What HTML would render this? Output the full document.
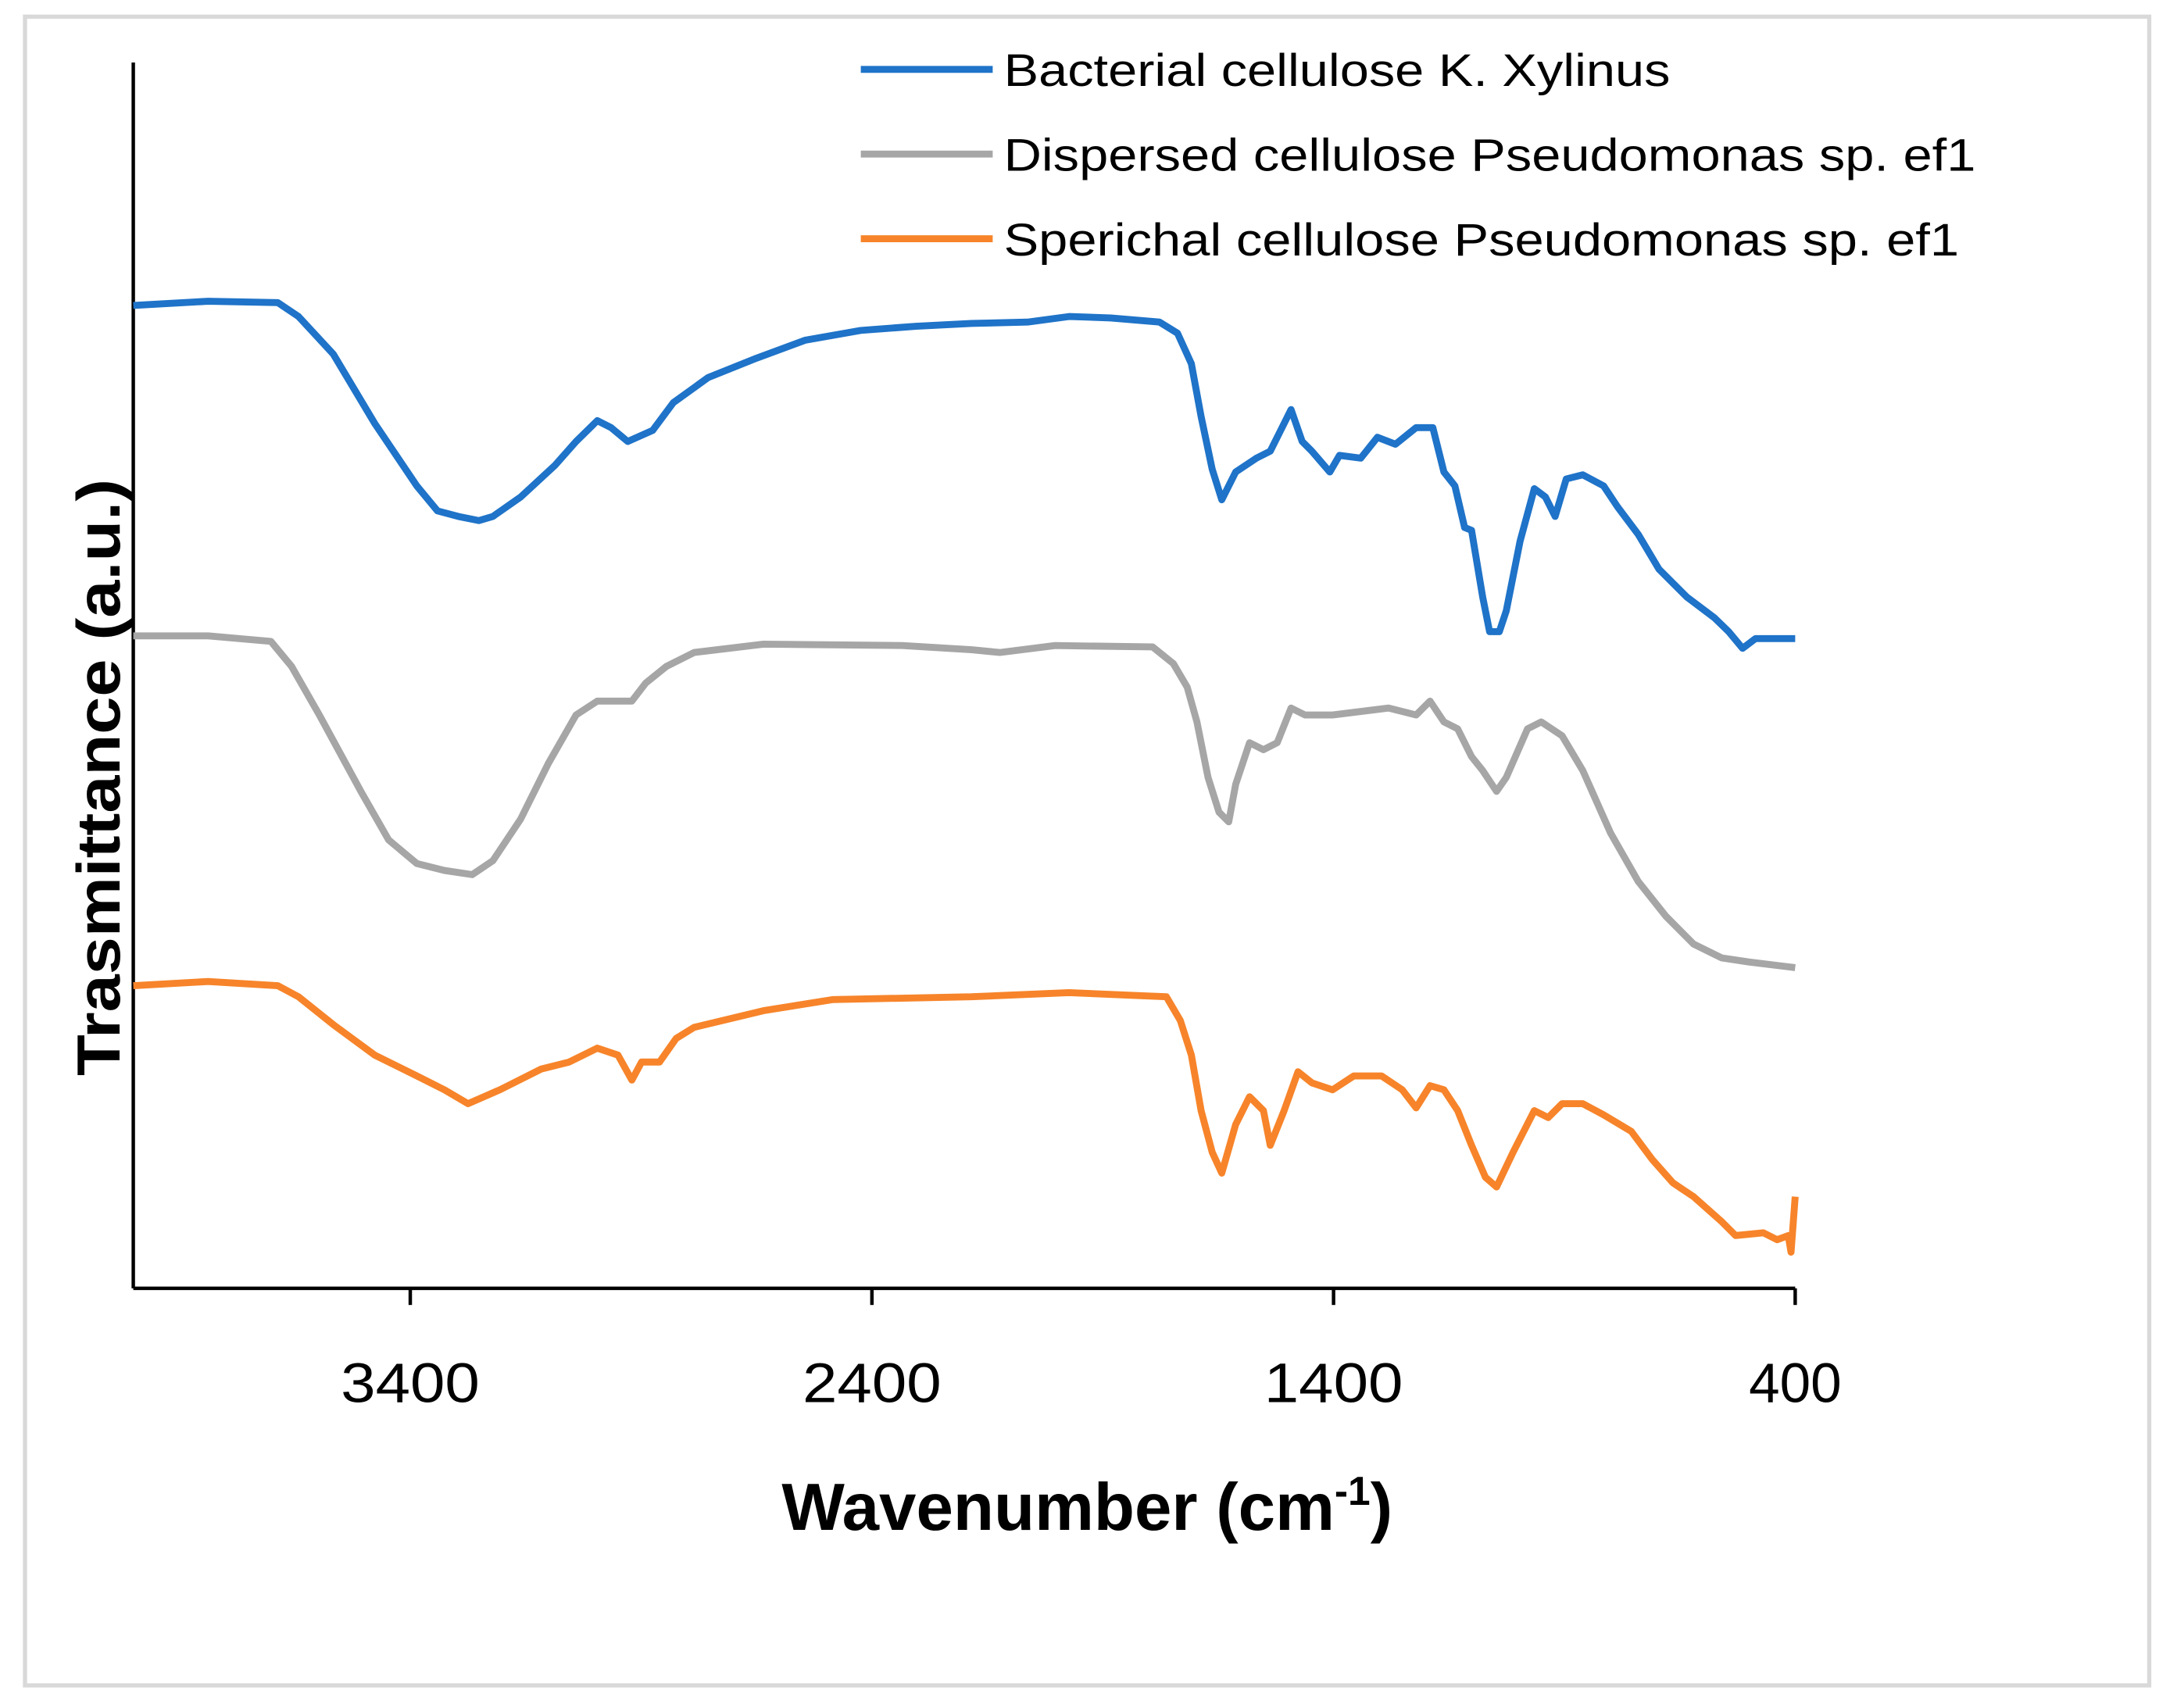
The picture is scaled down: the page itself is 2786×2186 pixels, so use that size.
<!DOCTYPE html>
<html><head><meta charset="utf-8"><style>
html,body{margin:0;padding:0;background:#fff;}
svg{display:block;}
text{font-family:"Liberation Sans",sans-serif;}
</style></head><body>
<svg id="chart" width="2786" height="2186" viewBox="0 0 1568 1230.3" preserveAspectRatio="none" xmlns="http://www.w3.org/2000/svg">
<rect x="18" y="12" width="1530" height="1202" fill="#fff" stroke="#d9d9d9" stroke-width="3"/>
<g id="axes"></g>
<g id="series"></g>
<g id="legend"></g>
<text transform="translate(86,560) rotate(-90)" text-anchor="middle" font-size="44" font-weight="bold" fill="#000" textLength="430" lengthAdjust="spacingAndGlyphs">Trasmittance (a.u.)</text>
<text x="563" y="1102" font-size="48" font-weight="bold" fill="#000">Wavenumber (cm<tspan dy="-18" font-size="29">-1</tspan><tspan dy="18">)</tspan></text>
</svg>
<script>
const xTicks=[3400,2400,1400,400];
const seriesNames=["Bacterial cellulose K. Xylinus","Dispersed cellulose Pseudomonas sp. ef1","Sperichal cellulose Pseudomonas sp. ef1"];
const seriesColors=["#1f73c8","#a6a6a6","#f7842a"];
const blueWn=[4000,3838,3687,3642,3567,3477,3386,3341,3296,3251,3221,3161,3086,3041,2995,2965,2929,2875,2830,2755,2650,2544,2424,2304,2184,2063,1973,1883,1777,1738,1708,1687,1663,1642,1612,1567,1537,1507,1492,1468,1447,1408,1387,1341,1305,1266,1221,1185,1161,1137,1116,1101,1077,1062,1041,1026,996,965,941,920,896,860,815,785,740,695,635,575,544,514,486,439,400];
const blueY=[220,217,218,228,255,305,350,368,372,375,372,358,335,318,303,308,318,310,290,272,258,245,238,235,233,232,228,229,232,240,262,300,338,360,340,330,325,305,295,318,325,340,328,330,315,320,308,308,340,350,380,382,430,455,455,440,390,352,358,372,345,342,350,365,385,410,430,445,455,467,460,460,460];
const grayWn=[4000,3838,3702,3657,3597,3507,3447,3386,3326,3266,3221,3161,3101,3041,2995,2950,2920,2890,2845,2785,2635,2334,2184,2123,2003,1792,1747,1717,1696,1672,1648,1627,1612,1582,1552,1522,1492,1462,1402,1281,1221,1191,1161,1131,1101,1077,1047,1026,980,950,905,860,800,740,680,620,559,499,400];
const grayY=[458,458,462,480,515,570,605,622,627,630,620,590,550,515,505,505,505,492,480,470,464,465,468,470,465,466,478,495,520,560,585,592,565,535,540,535,510,515,515,510,515,505,520,525,545,555,570,560,525,520,530,555,600,635,660,680,690,693,697];
const orangeWn=[4000,3838,3687,3642,3567,3477,3386,3326,3275,3206,3116,3056,2995,2950,2920,2899,2860,2824,2785,2635,2484,2184,1973,1762,1732,1708,1687,1663,1642,1612,1582,1552,1537,1507,1477,1447,1402,1356,1296,1251,1221,1191,1161,1131,1101,1071,1047,1011,965,935,905,860,815,755,710,665,620,559,529,469,439,415,409,400];
const orangeY=[710,707,710,718,738,760,775,785,795,785,770,765,755,760,778,765,765,748,740,728,720,718,715,718,735,760,800,830,845,810,790,800,825,800,772,780,785,775,775,785,798,782,785,800,825,848,855,830,800,805,795,795,803,815,835,852,862,880,890,888,893,890,902,862];
const toAU=a=>a.map(v=>(928-v)/8.83);
const seriesWn=[blueWn,grayWn,orangeWn];
const seriesVals=[toAU(blueY),toAU(grayY),toAU(orangeY)];

const NS="http://www.w3.org/2000/svg";
const X0=96,X1=1293,Y0=928,Y1=45;
const xScale=w=>X0+(4000-w)/(4000-400)*(X1-X0);
const yScale=v=>Y0-v*8.83;
const axes=document.getElementById('axes');
function mk(tag,attrs,parent){const e=document.createElementNS(NS,tag);for(const k in attrs)e.setAttribute(k,attrs[k]);parent.appendChild(e);return e;}
const yl=mk('line',{x1:X0,y1:Y1,x2:X0,y2:Y0,stroke:'#000','stroke-width':2.5},axes);


const xl=mk('line',{x1:X0,y1:Y0,x2:X1,y2:Y0,stroke:'#000','stroke-width':2.5},axes);


xTicks.forEach(t=>{
  const tk=mk('line',{x1:xScale(t),y1:Y0,x2:xScale(t),y2:Y0+12,stroke:'#000','stroke-width':2.5},axes);
  
  
  const tl=mk('text',{x:xScale(t),y:1010,'text-anchor':'middle','font-size':40,fill:'#000'},axes);
  tl.textContent=t;
  if(String(t).length===4){tl.setAttribute('textLength',100);tl.setAttribute('lengthAdjust','spacingAndGlyphs');}
  
  
});
const sg=document.getElementById('series');
seriesWn.forEach((wn,i)=>{
  const d=wn.map((w,j)=>(j?'L':'M')+xScale(w).toFixed(1)+','+yScale(seriesVals[i][j]).toFixed(1)).join('');
  const p=mk('path',{d:d,fill:'none',stroke:seriesColors[i],'stroke-width':5,'stroke-linejoin':'round'},sg);
  
  
});
const legendLens=[480,700,688];
const lg=document.getElementById('legend');
seriesNames.forEach((n,i)=>{
  const y=50+i*61;
  const g=mk('g',{},lg);
  
  
  mk('line',{x1:620,y1:y,x2:715,y2:y,stroke:seriesColors[i],'stroke-width':5},g);
  const t=mk('text',{x:723,y:y+12,'font-size':33,fill:'#000',textLength:legendLens[i],lengthAdjust:'spacingAndGlyphs'},g);
  t.textContent=n;
});
</script>
</body></html>
